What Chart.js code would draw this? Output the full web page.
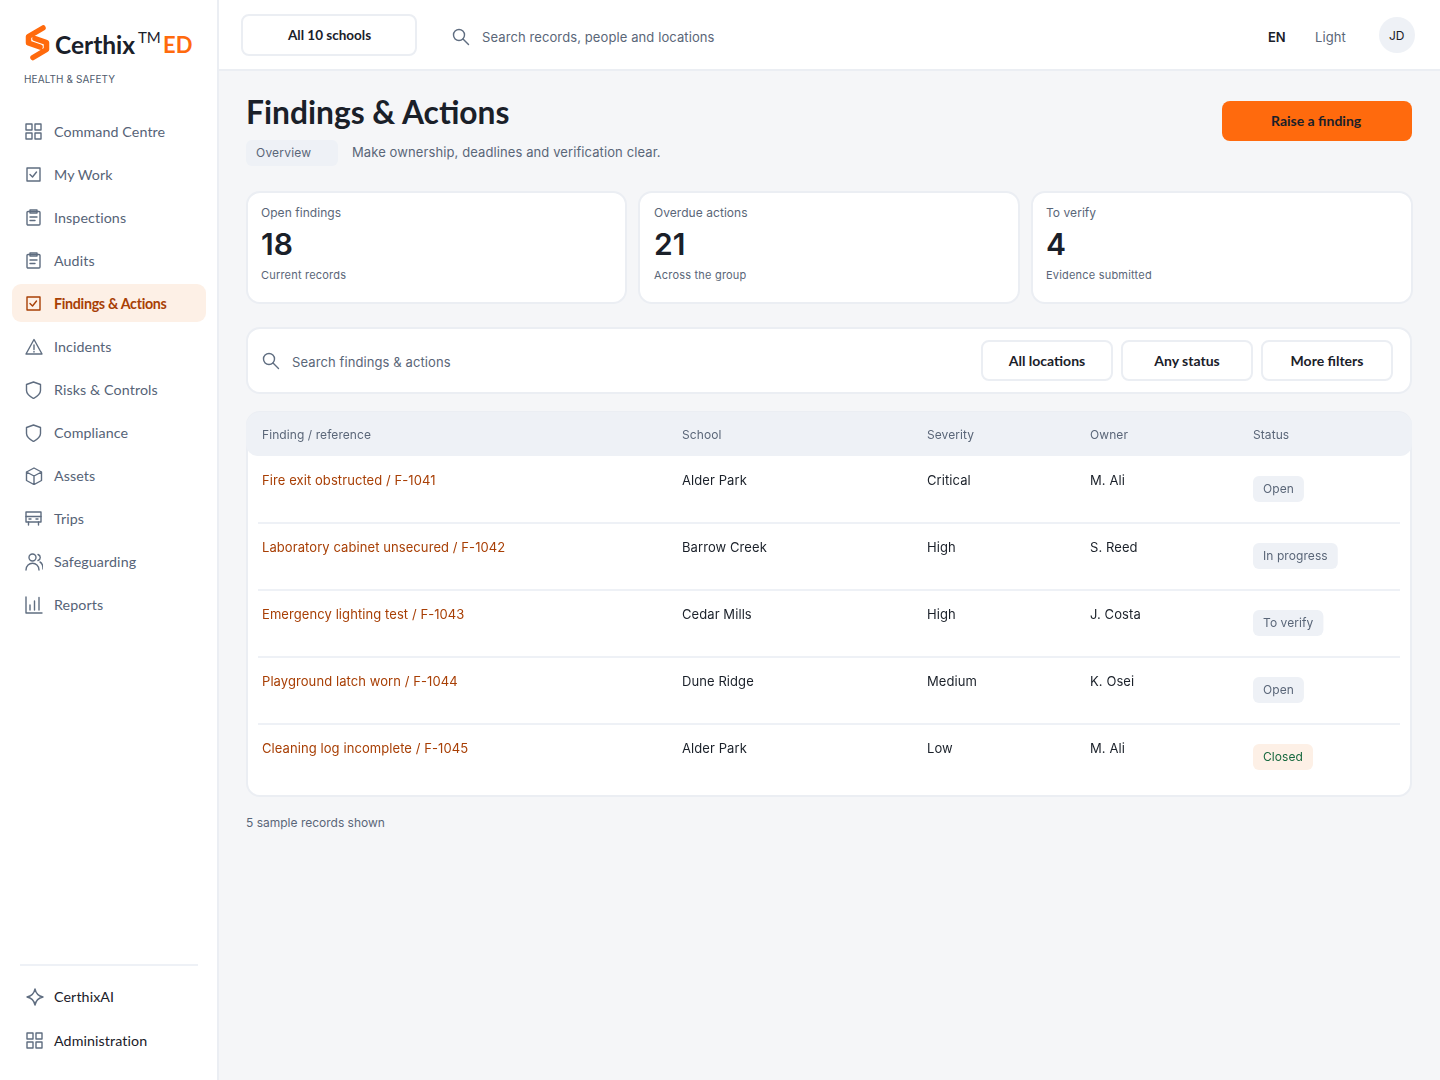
<!DOCTYPE html>
<html>
<head>
<meta charset="utf-8">
<title>Findings & Actions</title>
<script src="https://cdn.jsdelivr.net/npm/chart.js@4/dist/chart.umd.min.js"></script>
<style>
  html, body { margin: 0; width: 1440px; height: 1080px; overflow: hidden; background: #f5f6f8; }
  body { position: relative; font-family: Inter, sans-serif; color: #1a2029; }
  .box { position: absolute; box-sizing: border-box; background: #fff; border: 2px solid #ebeef3; }
  .t { position: absolute; white-space: nowrap; transform: translateY(-50%); line-height: 1.2; }
  .head { font-family: Lato, sans-serif; }
  .muted { color: #5a6678; font-size: 13px; letter-spacing: .1px; }
  .btn { position: absolute; box-sizing: border-box; background: #fff; border: 2px solid #ebeef3; border-radius: 8px;
         display: flex; align-items: center; justify-content: center; font: 700 14px Lato, sans-serif; height: 41px; }
  svg.i { position: absolute; fill: none; stroke: #5f6d80; stroke-width: 1.4; stroke-linecap: round; stroke-linejoin: round; }
  #tableChart { position: absolute; left: 258px; top: 412px; }
</style>
</head>
<body>
<div id="page"></div>
<canvas id="tableChart" width="1142" height="379"></canvas>
<script>
const navItems = ['Command Centre', 'My Work', 'Inspections', 'Audits', 'Findings & Actions', 'Incidents', 'Risks & Controls', 'Compliance', 'Assets', 'Trips', 'Safeguarding', 'Reports'];
const navIcons = ['grid', 'check', 'clip', 'clip', 'check', 'warn', 'shield', 'shield', 'cube', 'bus', 'people', 'bars'];
const footerItems = ['CerthixAI', 'Administration'];
const footerIcons = ['spark', 'grid'];
const kpiLabels = ['Open findings', 'Overdue actions', 'To verify'];
const kpiValues = ['18', '21', '4'];
const kpiNotes = ['Current records', 'Across the group', 'Evidence submitted'];
const filterLabels = ['All locations', 'Any status', 'More filters'];
const columns = ['Finding / reference', 'School', 'Severity', 'Owner', 'Status'];
const findings = ['Fire exit obstructed / F-1041', 'Laboratory cabinet unsecured / F-1042', 'Emergency lighting test / F-1043', 'Playground latch worn / F-1044', 'Cleaning log incomplete / F-1045'];
const schools = ['Alder Park', 'Barrow Creek', 'Cedar Mills', 'Dune Ridge', 'Alder Park'];
const severities = ['Critical', 'High', 'High', 'Medium', 'Low'];
const owners = ['M. Ali', 'S. Reed', 'J. Costa', 'K. Osei', 'M. Ali'];
const statuses = ['Open', 'In progress', 'To verify', 'Open', 'Closed'];

const iconPaths = {
  grid: '<rect x="1" y="1" width="6" height="6"/><rect x="10" y="1" width="6" height="6"/><rect x="1" y="10" width="6" height="6"/><rect x="10" y="10" width="6" height="6"/>',
  check: '<rect x="2" y="2" width="13" height="13"/><path d="M5 8.500l2.500 2.500 4-5"/>',
  clip: '<rect x="2" y="2.500" width="13" height="13.500" rx="1"/><rect x="5" y="1" width="7" height="3"/><path d="M5 8h7M5 11.500h5"/>',
  warn: '<path d="M9 1.500L17 16H1zM9 7v4.500M9 13.500v.5"/>',
  shield: '<path d="M8.500 1l7 2.500v6c0 4-3.500 6-7 8-3.500-2-7-4-7-8v-6z"/>',
  cube: '<path d="M9 1l7.500 4v8.500L9 17.500 1.500 13.500V5zM1.500 5L9 9l7.500-4M9 9v8.500"/>',
  bus: '<rect x="1" y="2" width="15" height="10"/><path d="M3.500 12v3M13.500 12v3M1 6.500h15M4 9h2M11 9h2"/>',
  people: '<circle cx="7.500" cy="4.500" r="3.500"/><path d="M1 17c0-9 13-9 13 0M13 1.500c3 1 3 5 0 6M15 9c2 1 3 3 3 7"/>',
  bars: '<path d="M1 1v16h16M5 14V9M9.500 14V5M14 14V1.500"/>',
  spark: '<path d="M9 1c1 5 3 7 8 8-5 1-7 3-8 8-1-5-3-7-8-8 5-1 7-3 8-8z"/>',
  search: '<circle cx="7" cy="7" r="5.500"/><path d="M11 11l5.500 5.500"/>'
};

const page = document.getElementById('page');

function addHtml(html) { page.insertAdjacentHTML('beforeend', html); }
function box(x, y, w, h, r, extra) {
  addHtml(`<div class="box" style="left:${x}px;top:${y}px;width:${w}px;height:${h}px;border-radius:${r}px;${extra || ''}"></div>`);
}
function text(str, x, cy, style, cls) {
  const el = document.createElement('div');
  el.className = 't ' + (cls || '');
  el.style.cssText = `left:${x}px;top:${cy}px;${style || ''}`;
  el.textContent = str;
  page.appendChild(el);
}
function icon(name, x, cy, color) {
  addHtml(`<svg class="i" style="left:${x}px;top:${cy - 9}px;${color ? 'stroke:' + color : ''}" width="18" height="18" viewBox="0 0 18 18">${iconPaths[name]}</svg>`);
}

// chrome
box(-2, -2, 221, 1084, 0);
box(217, -2, 1225, 73, 0);

// logo
addHtml('<svg style="position:absolute;left:0;top:0" width="60" height="70"><path fill="none" stroke="#ff6a0d" stroke-width="5.500" stroke-linejoin="round" stroke-linecap="round" d="M43 28L28.500 36.500V43L40 47M33 57.500L46.500 49.500V42.500L35 38.500"/></svg>');
text('Certhix', 55, 44, 'font:700 24.500px Lato,sans-serif;color:#1a2029');
text('TM', 138, 37, 'font:400 15px Lato,sans-serif;color:#1a2029');
text('ED', 163, 44, 'font:700 22px Lato,sans-serif;color:#ff6a0d');
text('HEALTH & SAFETY', 24, 79, 'font-size:10px;color:#4f5b6d;letter-spacing:.1px');

// sidebar nav
box(12, 284, 194, 38, 9, 'background:#fdf0e6;border:0');
navItems.forEach((name, i) => {
  const cy = 132 + i * 43;
  const active = i === 4;
  icon(navIcons[i], 25, cy, active ? '#a83f05' : null);
  text(name, 54, cy, active ? 'font-weight:700;color:#a83f05;letter-spacing:-.3px' : 'color:#566377;letter-spacing:.1px', 'head nav');
});
box(20, 964, 178, 2, 0, 'background:#eef1f6;border:0');
footerItems.forEach((name, i) => {
  const cy = 997 + i * 44;
  icon(footerIcons[i], 26, cy);
  text(name, 54, cy, 'color:#1a2029;letter-spacing:.1px', 'head nav');
});
page.querySelectorAll('.nav').forEach(n => { n.style.fontSize = '14.250px'; });

// top bar
box(241, 14, 176, 42, 8);
text('All 10 schools', 288, 35, 'font:700 13.500px Lato,sans-serif');
icon('search', 452, 37);
text('Search records, people and locations', 482, 37.500, '', 'muted');
text('EN', 1268, 37.500, 'font-weight:600;font-size:13px');
text('Light', 1315, 37.500, '', 'muted');
box(1379, 17, 36, 36, 18, 'background:#eef1f6;border:0');
text('JD', 1389, 36, 'font-size:12px');

// page heading
text('Findings & Actions', 246, 112, 'font:700 31.750px Lato,sans-serif');
box(246, 140, 92, 26, 6, 'background:#eef1f6;border:0');
text('Overview', 256, 152.500, 'font-size:12px;letter-spacing:.2px', 'muted');
text('Make ownership, deadlines and verification clear.', 352, 152.500, '', 'muted');
box(1222, 101, 190, 40, 8, 'background:#ff6a0d;border:0');
text('Raise a finding', 1271, 120, 'font:700 14px Lato,sans-serif');

// kpi cards
[246, 638, 1031].forEach((x, i) => {
  box(x, 191, i === 0 ? 381 : 382, 113, 14);
  const tx = [261, 654, 1046][i];
  text(kpiLabels[i], tx, 213, 'font-size:12px;letter-spacing:.05px', 'muted');
  text(kpiValues[i], tx, 244, 'font-size:30px;font-weight:600');
  text(kpiNotes[i], tx, 276, 'font-size:11px;letter-spacing:.2px', 'muted');
});

// filter bar
box(246, 327, 1166, 67, 14);
icon('search', 262, 361);
text('Search findings & actions', 292, 362.500, '', 'muted');
[981, 1121, 1261].forEach((x, i) => {
  addHtml(`<div class="btn" style="left:${x}px;top:340px;width:132px">${filterLabels[i]}</div>`);
});

// table card
box(246, 411, 1166, 386, 14);
box(246, 412, 1166, 44, 14, 'background:#eef1f6;border:0;border-radius:14px 14px 12px 12px');
text('5 sample records shown', 246, 822.500, 'font-size:12px;letter-spacing:0', 'muted');

// table body: rows on a category axis, columns on a linear axis laid out like the original table
const columnOffsets = [4, 424, 669, 832, 995];
const tableWidth = 1142;
const cellFont = '13px Inter';

function cellPoints(col) {
  return findings.map(f => ({ x: columnOffsets[col], y: f }));
}

const cellTextPlugin = {
  id: 'cellText',
  beforeDraw(chart) { chart.ctx.letterSpacing = '0.08px'; },
  afterDatasetsDraw(chart) {
    const { ctx } = chart;
    ctx.save();
    ctx.font = cellFont;
    ctx.textBaseline = 'middle';
    chart.data.datasets.forEach((ds, d) => {
      chart.getDatasetMeta(d).data.forEach((pt, i) => {
        const label = ds.cells[i];
        if (ds.badge) {
          const closed = label === 'Closed';
          ctx.font = '12px Inter';
          const w = ctx.measureText(label).width + 20;
          ctx.fillStyle = closed ? '#fdf0e6' : '#eef1f6';
          ctx.beginPath();
          ctx.roundRect(pt.x, pt.y - 13.5, w, 26, 6);
          ctx.fill();
          ctx.fillStyle = closed ? '#16683e' : '#5a6678';
          ctx.fillText(label, pt.x + 10, pt.y - 0.5);
        } else {
          ctx.font = cellFont;
          ctx.fillStyle = '#1a2029';
          ctx.fillText(label, pt.x, pt.y - 8.5);
        }
      });
    });
    ctx.restore();
  }
};

new Chart(document.getElementById('tableChart'), {
  type: 'scatter',
  data: {
    datasets: [
      { data: cellPoints(1), cells: schools },
      { data: cellPoints(2), cells: severities },
      { data: cellPoints(3), cells: owners },
      { data: cellPoints(4), cells: statuses, badge: true }
    ]
  },
  options: {
    responsive: false,
    animation: false,
    events: [],
    elements: { point: { radius: 0 } },
    layout: { padding: 0 },
    plugins: { legend: { display: false }, tooltip: { enabled: false } },
    scales: {
      x: {
        type: 'linear',
        position: 'top',
        min: 0,
        max: tableWidth,
        afterBuildTicks: scale => { scale.ticks = columnOffsets.map(v => ({ value: v })); },
        afterFit: scale => { scale.height = 44; scale.paddingLeft = 0; scale.paddingRight = 0; },
        grid: { display: false, drawTicks: false },
        border: { display: false },
        ticks: {
          callback: (v, i) => columns[i],
          align: 'start',
          autoSkip: false,
          maxRotation: 0,
          padding: 13,
          color: '#5a6678',
          font: { family: 'Inter', size: 12 }
        }
      },
      y: {
        type: 'category',
        labels: findings,
        offset: true,
        afterFit: scale => { scale.width = 0; scale.paddingTop = 0; scale.paddingBottom = 0; },
        grid: {
          offset: true,
          drawTicks: false,
          lineWidth: 2,
          // the extra boundary line past the last tick has no index
          color: ctx => (ctx.index === 0 || ctx.index === undefined) ? 'rgba(0,0,0,0)' : '#eef1f6'
        },
        border: { display: false },
        ticks: {
          mirror: true,
          padding: 4,
          labelOffset: -8.5,
          color: '#a83f05',
          font: { family: 'Inter', size: 13 }
        }
      }
    }
  },
  plugins: [cellTextPlugin]
});
</script>
</body>
</html>
